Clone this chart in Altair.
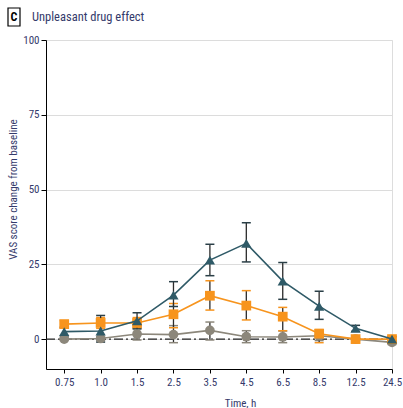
import altair as alt
import pandas as pd

time_labels = ["0.75", "1.0", "1.5", "2.5", "3.5", "4.5", "6.5", "8.5", "12.5", "24.5"]

high_mean = [2.5, 2.7, 6.1, 14.7, 26.4, 32.0, 19.4, 11.0, 3.6, 0.0]
high_lo = [1.0, -1.0, 3.4, 10.9, 21.2, 25.8, 13.3, 6.6, 2.6, -0.8]
high_hi = [4.0, 7.9, 8.8, 19.2, 31.7, 38.9, 25.6, 16.0, 4.6, 0.8]

mid_mean = [5.0, 5.4, 5.4, 8.3, 14.5, 11.2, 7.5, 1.8, 0.0, 0.0]
mid_lo = [3.8, 3.6, 3.6, 3.8, 9.7, 6.4, 2.8, -1.2, -0.8, -0.8]
mid_hi = [6.2, 7.2, 7.2, 11.9, 19.5, 16.2, 10.6, 3.2, 0.8, 0.8]

low_mean = [0.0, 0.2, 1.7, 1.5, 2.9, 0.8, 0.7, 1.1, 0.0, -1.1]
low_lo = [-0.5, -0.5, -0.3, -1.2, -0.3, -1.2, -1.2, -0.5, -0.5, -1.8]
low_hi = [0.5, 0.9, 3.8, 4.5, 5.7, 2.8, 2.7, 2.6, 0.5, -0.4]

series = [
    ("low", low_mean, low_lo, low_hi, "#8c877b", "#8c877b", "circle"),
    ("mid", mid_mean, mid_lo, mid_hi, "#f7941d", "#f7941d", "square"),
    ("high", high_mean, high_lo, high_hi, "#2f5a67", "#2a3f47", "triangle-up"),
]

text_color = "#343a6b"
font = "Liberation Sans Narrow, Roboto Condensed, Arial Narrow, Liberation Sans, sans-serif"

x_scale = alt.Scale(domain=[-0.5, 9], nice=False, zero=False)
y_scale = alt.Scale(domain=[-10, 100], nice=False, zero=False)

label_array = "[" + ",".join("'" + t + "'" for t in time_labels) + "]"

x_axis = alt.Axis(
    values=list(range(10)), labelExpr=label_array + "[datum.value]",
    title="Time, h", grid=False, domainColor="black", tickColor="black",
    tickSize=4, labelColor=text_color, titleColor=text_color, labelFont=font,
    titleFont=font, labelFontSize=11, titleFontSize=11, titleFontWeight="normal",
    labelPadding=3, titleX=194, titleY=28, titleAlign="center",
    labelOverlap=False, labelBound=False, labelFlush=False,
)
y_axis = alt.Axis(
    values=[0, 25, 50, 75, 100], title="VAS score change from baseline",
    grid=True, gridColor="#dcdcdc", domainColor="black", tickColor="black",
    tickSize=5, labelColor=text_color, titleColor=text_color, labelFont=font,
    titleFont=font, labelFontSize=11, titleFontSize=11, titleFontWeight="normal",
    labelPadding=2, titleX=-28, titleY=149, titleAlign="center",
    labelOverlap=False,
)


def X(field):
    return alt.X(field, scale=x_scale, axis=x_axis, title="Time, h")


def Y(field):
    return alt.Y(field, scale=y_scale, axis=y_axis, title="VAS score change from baseline")


layers = []

zero_df = pd.DataFrame({"x": [-0.5, 9], "y": [0, 0]})
layers.append(
    alt.Chart(zero_df).mark_line(color="#222222", strokeWidth=1.2, strokeDash=[9, 3, 2, 3]).encode(
        x=X("x:Q"), y=Y("y:Q"),
    )
)

for name, mean, lo, hi, col, capcol, shape in series:
    df = pd.DataFrame({"idx": list(range(10)), "mean": mean, "lo": lo, "hi": hi})
    base = alt.Chart(df)
    layers.append(
        base.mark_rule(color="#2b2b2b", strokeWidth=1.3).encode(
            x=X("idx:Q"), y=Y("lo:Q"), y2="hi:Q"
        )
    )
    for f in ["lo", "hi"]:
        layers.append(
            base.mark_tick(orient="horizontal", size=9, thickness=1.5, color=capcol, opacity=1).encode(
                x=X("idx:Q"), y=Y(f + ":Q")
            )
        )

for name, mean, lo, hi, col, capcol, shape in series:
    df = pd.DataFrame({"idx": list(range(10)), "mean": mean})
    base = alt.Chart(df)
    layers.append(
        base.mark_line(color=col, strokeWidth=1.6).encode(
            x=X("idx:Q"), y=Y("mean:Q")
        )
    )
    layers.append(
        base.mark_point(shape=shape, filled=True, size=95 if shape != "triangle-up" else 105,
                        color=col, opacity=1).encode(
            x=X("idx:Q"), y=Y("mean:Q")
        )
    )

# panel label box and title
layers.append(
    alt.Chart(pd.DataFrame({"t": ["C"]})).mark_rect(fill="white", stroke="black", strokeWidth=1.2).encode(
        x=alt.value(-38), x2=alt.value(-26), y=alt.value(-32), y2=alt.value(-14)
    )
)
layers.append(
    alt.Chart(pd.DataFrame({"t": ["C"]})).mark_text(
        font=font, fontSize=12, fontWeight="bold", color="black", align="center", baseline="middle"
    ).encode(x=alt.value(-32), y=alt.value(-23), text="t:N")
)
layers.append(
    alt.Chart(pd.DataFrame({"t": ["Unpleasant drug effect"]})).mark_text(
        font=font, fontSize=12.5, color=text_color, align="left", baseline="middle"
    ).encode(x=alt.value(-14), y=alt.value(-23), text="t:N")
)

chart = alt.layer(*layers).properties(
    width=346, height=329, autosize=alt.AutoSizeParams(type="none"),
    padding={"left": 46, "top": 40, "right": 11, "bottom": 39},
).configure_view(stroke=None).configure(background="white")

chart.save("out.html", embed_options={"renderer": "svg", "actions": False})
